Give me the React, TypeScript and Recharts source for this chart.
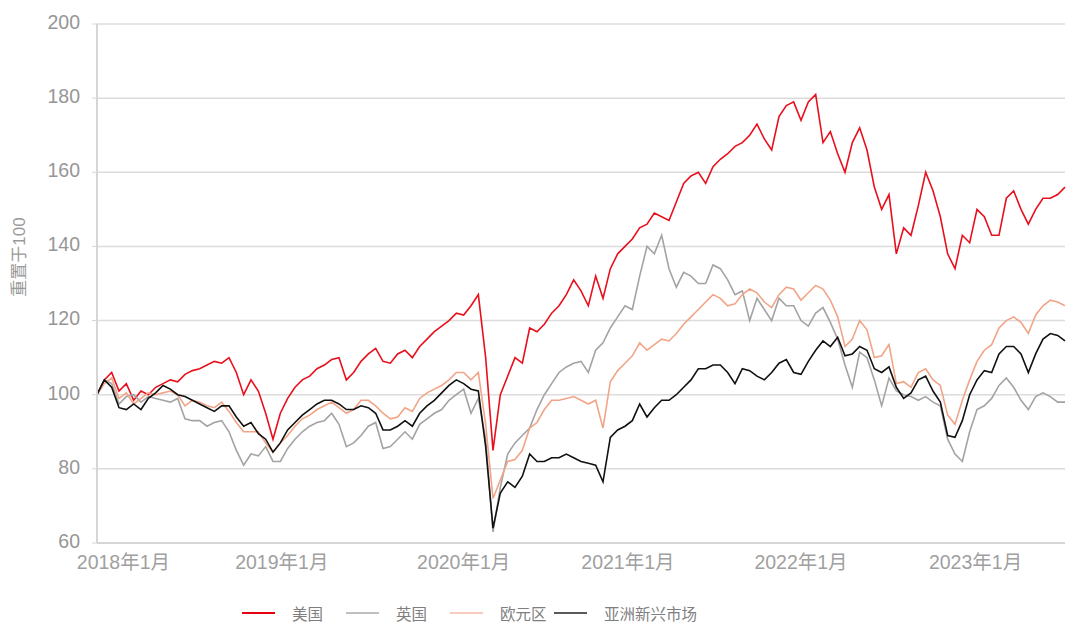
import React from 'react';
import { LineChart, Line, XAxis, YAxis, CartesianGrid } from 'recharts';

// half-month steps from 2018年1月, rebased to 100
const us = [
  100, 104, 106, 101, 103, 98.5, 101, 100, 102, 103, 104, 103.5, 105.5, 106.5, 107, 108, 109, 108.5, 110, 106,
  100, 104, 101, 95, 88, 95, 99, 102, 104, 105, 107, 108, 109.5, 110, 104, 106, 109, 111, 112.5, 109,
  108.5, 111, 112, 110, 113, 115, 117, 118.5, 120, 122, 121.5, 124, 127, 110, 85, 100, 105, 110, 108.5, 118,
  117, 119, 122, 124, 127, 131, 128, 124, 132, 126, 134, 138, 140, 142, 145, 146, 149, 148, 147, 152,
  157, 159, 160, 157, 161.5, 163.5, 165, 167, 168, 170, 173, 169, 166, 175, 178, 179, 174, 179, 181, 168,
  171, 165, 160, 168, 172, 166, 156, 150, 154, 138, 145, 143, 151, 160, 155, 148, 138, 134, 143, 141,
  150, 148, 143, 143, 153, 155, 150, 146, 150, 153, 153, 154, 156,
];
const uk = [
  100, 104, 103, 97.5, 99.5, 100, 98, 99.5, 99, 98.5, 98, 99, 93.5, 93, 93, 91.5, 92.5, 93, 90, 85,
  81, 84, 83.5, 86, 82, 82, 85.5, 88, 90, 91.5, 92.5, 93, 95, 92, 86, 87, 89, 91.5, 92.5, 85.5,
  86, 88, 90, 88, 92, 93.5, 95, 96, 98.5, 100, 101.5, 95, 99, 88, 63, 75, 84, 87, 89, 91,
  96, 100, 103, 106, 107.5, 108.5, 109, 106, 112, 114, 118, 121, 124, 123, 132, 140, 138, 143, 134, 129,
  133, 132, 130, 130, 135, 134, 131, 127, 128, 120, 126, 123, 120, 126, 124, 124, 120, 118.5, 122, 123.5,
  119.5, 115, 108, 102, 111.5, 110, 104, 97, 104.5, 101, 100, 99.5, 98.5, 99.5, 98, 97, 88, 84, 82, 90,
  96, 97, 99, 102.5, 104.5, 102, 98.5, 96, 99.5, 100.5, 99.5, 98, 98,
];
const eurozone = [
  100, 103, 104.5, 99, 100.5, 97.5, 99, 100.5, 100, 100.5, 101, 100, 97, 98.5, 98, 97, 96.5, 98, 95.5, 92.5,
  90, 90, 90, 87, 84.5, 87, 89, 91.5, 93.5, 94.5, 96, 97, 98, 96.5, 95, 96, 98.5, 98.5, 97, 95,
  93.5, 94, 96.5, 95.5, 99, 100.5, 101.5, 102.5, 104, 106, 106, 104, 106, 92, 72, 77, 82, 82.5, 85, 91,
  92.5, 96, 98.5, 98.5, 99, 99.5, 98.5, 97.5, 98.5, 91, 103.5, 106.5, 108.5, 110.5, 114, 112, 113.5, 115, 114.5, 116.5,
  119, 121, 123, 125, 127, 126, 124, 124.5, 127, 128.5, 127.5, 125, 123.5, 127, 129, 128.5, 125.5, 127.5, 129.5, 128.5,
  125.5, 121, 113, 115, 120, 117.5, 110, 110.5, 113.5, 103, 103.5, 102, 106, 107, 104, 102.5, 94.5, 92, 98.5, 104,
  109, 112, 113.5, 118, 120, 121, 119.5, 116.5, 121.5, 124, 125.5, 125, 124,
];
const asiaEm = [
  100, 104, 102, 96.5, 96, 97.5, 96, 99, 100.5, 102.5, 101.5, 100, 99.5, 98.5, 97.5, 96.5, 95.5, 97, 97, 94,
  91.5, 92.5, 89.5, 88, 84.5, 87, 90.5, 92.5, 94.5, 96, 97.5, 98.5, 98.5, 97.5, 96, 96, 97, 96.5, 95, 90.5,
  90.5, 91.5, 93, 91.5, 95, 97, 98.5, 100.5, 102.5, 104, 103, 101.5, 101, 86, 64, 73.5, 76.5, 75, 78, 84,
  82, 82, 83, 83, 84, 83, 82, 81.5, 81, 76.5, 88.5, 90.5, 91.5, 93, 97.5, 94, 96.5, 98.5, 98.5, 100,
  102, 104, 107, 107, 108, 108, 106, 103, 107, 106.5, 105, 104, 106, 108.5, 109.5, 106, 105.5, 109, 112, 114.5,
  113, 115.5, 110.5, 111, 113, 112, 107, 106, 107.5, 102, 99, 100.5, 104, 105, 101, 98, 89, 88.5, 93, 100,
  104, 106.5, 106, 111, 113, 113, 111, 106, 111, 115, 116.5, 116, 114.5,
];

const tickPositions = [1.8, 12.6, 25, 36.2, 48, 59.9];
const tickLabels = ['2018年1月', '2019年1月', '2020年1月', '2021年1月', '2022年1月', '2023年1月'];
const yTicks = [60, 80, 100, 120, 140, 160, 180, 200];

const seriesNames = ['美国', '英国', '欧元区', '亚洲新兴市场'];
const lineColors = ['#e8101c', '#a3a3a3', '#f2a487', '#111111'];
const legendColors = ['#e60012', '#c0c0c0', '#f8cbbd', '#5a5a5a'];

const data = us.map((v, i) => ({
  m: i / 2,
  us: v,
  uk: uk[i],
  ez: eurozone[i],
  asia: asiaEm[i],
}));

const keys = ['us', 'uk', 'ez', 'asia'];
const font = 'Arial, "Liberation Sans", "Noto Sans CJK SC", sans-serif';

export default function App() {
  return (
    <div style={{ position: 'absolute', left: 0, top: 0, width: 1080, height: 632, background: '#fff', fontFamily: font }}>
      <LineChart width={1080} height={632} data={data} margin={{ top: 24, right: 15, left: 37, bottom: 59 }}>
        <CartesianGrid vertical={false} stroke="#dcdcdc" strokeWidth={1.5} />
        <XAxis
          dataKey="m"
          type="number"
          domain={[0, 66]}
          ticks={tickPositions}
          tickFormatter={(v) => tickLabels[tickPositions.indexOf(v)]}
          tickLine={false}
          axisLine={{ stroke: '#d6d6d6', strokeWidth: 2 }}
          tick={{ fill: '#a0a0a0', fontSize: 19.5, fontFamily: font }}
          tickMargin={6}
          height={30}
          interval={0}
        />
        <YAxis
          domain={[60, 200]}
          ticks={yTicks}
          width={60}
          axisLine={{ stroke: '#d6d6d6', strokeWidth: 2 }}
          tickLine={{ stroke: '#d6d6d6' }}
          tickSize={5}
          tickMargin={12}
          tick={{ fill: '#969696', fontSize: 19.5, fontFamily: font, dy: -2 }}
          interval={0}
        />
        {keys.map((k, i) => (
          <Line
            key={k}
            dataKey={k}
            name={seriesNames[i]}
            type="linear"
            stroke={lineColors[i]}
            strokeWidth={1.6}
            dot={false}
            isAnimationActive={false}
          />
        ))}
      </LineChart>
      <div
        style={{
          position: 'absolute',
          left: 17,
          top: 257,
          transform: 'translate(-50%, -50%) rotate(-90deg)',
          whiteSpace: 'nowrap',
          fontSize: 17,
          color: '#9a9a9a',
        }}
      >
        重置于100
      </div>
      <div style={{ position: 'absolute', left: 242, top: 601, display: 'flex', alignItems: 'center', height: 24 }}>
        {seriesNames.map((n, i) => (
          <div key={n} style={{ display: 'flex', alignItems: 'center', width: i < 3 ? 104 : undefined }}>
            <div style={{ width: 33, height: 2, background: legendColors[i] }} />
            <span style={{ marginLeft: 17, fontSize: 15.5, color: '#7f7f7f', whiteSpace: 'nowrap' }}>{n}</span>
          </div>
        ))}
      </div>
    </div>
  );
}
